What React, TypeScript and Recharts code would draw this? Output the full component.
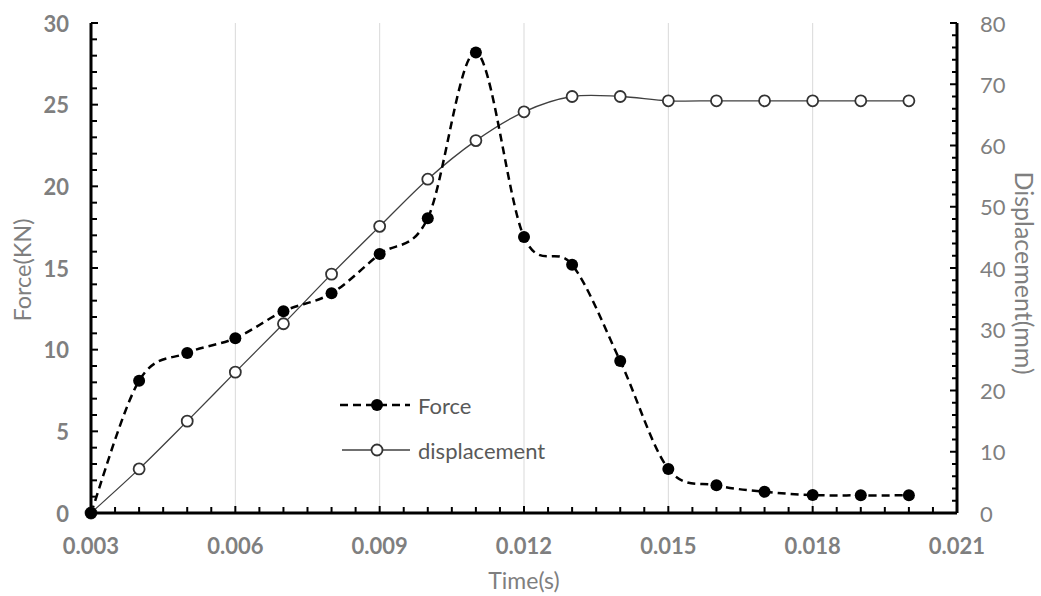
import { ComposedChart, Line, XAxis, YAxis, ReferenceLine, Legend, Label } from 'recharts';

// Force / displacement vs time

const time = [0.003, 0.004, 0.005, 0.006, 0.007, 0.008, 0.009, 0.01, 0.011, 0.012, 0.013, 0.014, 0.015, 0.016, 0.017, 0.018, 0.019, 0.02];
const force = [0, 8.1, 9.8, 10.7, 12.35, 13.45, 15.85, 18.05, 28.2, 16.9, 15.2, 9.3, 2.7, 1.7, 1.3, 1.1, 1.08, 1.08];
const displacement = [0, 7.2, 15.0, 23.0, 30.9, 39.0, 46.8, 54.5, 60.8, 65.5, 68.0, 68.0, 67.3, 67.3, 67.3, 67.3, 67.3, 67.3];

const xMajorTicks = [0.003, 0.006, 0.009, 0.012, 0.015, 0.018, 0.021];
const gridX = [0.006, 0.009, 0.012, 0.015, 0.018];
const xMinorStep = 0.0005;
const forceStep = 1;
const forceMax = 30;
const dispStep = 2;
const dispMax = 80;

const xTicks: number[] = [];
for (let v = xMajorTicks[0]; v <= xMajorTicks[xMajorTicks.length - 1] + 1e-6; v += xMinorStep) xTicks.push(Math.round(v * 10000) / 10000);
const forceTicks: number[] = [];
for (let v = 0; v <= forceMax; v += forceStep) forceTicks.push(v);
const dispTicks: number[] = [];
for (let v = 0; v <= dispMax; v += dispStep) dispTicks.push(v);

const data = time.map((t, i) => ({ t, force: force[i], displacement: displacement[i] }));

const FONT = 'Lato, "Open Sans", sans-serif';
const GREY = '#7f7f7f';

// Excel-like smoothed line (Catmull-Rom style bezier)
function excelCurve(context: any) {
  let pts: number[][] = [];
  return {
    areaStart() {},
    areaEnd() {},
    lineStart() {
      pts = [];
    },
    point(x: number, y: number) {
      pts.push([+x, +y]);
    },
    lineEnd() {
      if (!pts.length) return;
      context.moveTo(pts[0][0], pts[0][1]);
      for (let i = 0; i < pts.length - 1; i++) {
        const p0 = pts[Math.max(0, i - 1)];
        const p1 = pts[i];
        const p2 = pts[i + 1];
        const p3 = pts[Math.min(pts.length - 1, i + 2)];
        context.bezierCurveTo(
          p1[0] + (p2[0] - p0[0]) / 6,
          p1[1] + (p2[1] - p0[1]) / 6,
          p2[0] - (p3[0] - p1[0]) / 6,
          p2[1] - (p3[1] - p1[1]) / 6,
          p2[0],
          p2[1]
        );
      }
    },
  };
}

function XTick(props: any) {
  const { x, y, payload } = props;
  const v = payload.value;
  const major = xMajorTicks.some((m) => Math.abs(m - v) < 1e-6);
  return (
    <g>
      <line x1={x} x2={x} y1={y} y2={y - (major ? 7 : 6)} stroke="#000" strokeWidth={2} />
      {major && (
        <text x={x} y={y + 32} textAnchor="middle" dominantBaseline="central" fill={GREY} fontFamily={FONT} fontSize={22} fontWeight="bold">
          {v.toFixed(3)}
        </text>
      )}
    </g>
  );
}

function LeftTick(props: any) {
  const { x, y, payload } = props;
  const v = payload.value;
  const major = v % 5 === 0;
  return (
    <g>
      <line x1={x} x2={x + (major ? 7 : 6)} y1={y} y2={y} stroke="#000" strokeWidth={2} />
      {major && (
        <text x={x - 22} y={y} textAnchor="end" dominantBaseline="central" fill={GREY} fontFamily={FONT} fontSize={22} fontWeight="bold">
          {v}
        </text>
      )}
    </g>
  );
}

function RightTick(props: any) {
  const { x, y, payload } = props;
  const v = payload.value;
  const major = v % 10 === 0;
  return (
    <g>
      <line x1={x} x2={x - (major ? 7 : 5)} y1={y} y2={y} stroke="#000" strokeWidth={2} />
      {major && (
        <text x={x + 23} y={y} textAnchor="start" dominantBaseline="central" fill={GREY} fontFamily={FONT} fontSize={22}>
          {v}
        </text>
      )}
    </g>
  );
}

function LegendBox() {
  return (
    <svg width={240} height={80} style={{ display: 'block' }}>
      <line x1={5} x2={75} y1={14} y2={14} stroke="#000" strokeWidth={2.5} strokeDasharray="8 5" />
      <circle cx={42} cy={14} r={6} fill="#000" />
      <text x={83} y={14} dominantBaseline="central" fill="#595959" fontFamily={FONT} fontSize={22}>
        Force
      </text>
      <line x1={7} x2={75} y1={59} y2={59} stroke="#404040" strokeWidth={1.3} />
      <circle cx={42} cy={59} r={5.5} fill="#fff" stroke="#333" strokeWidth={1.8} />
      <text x={83} y={59} dominantBaseline="central" fill="#595959" fontFamily={FONT} fontSize={22}>
        displacement
      </text>
    </svg>
  );
}

export default function App() {
  return (
    <div style={{ position: 'absolute', left: 0, top: 0, background: '#fff' }}>
      <ComposedChart width={1041} height={596} data={data} margin={{ top: 23, right: 0, bottom: 0, left: 0 }}>
        {gridX.map((g) => (
          <ReferenceLine key={g} x={g} yAxisId="left" stroke="#d9d9d9" strokeWidth={1} />
        ))}
        <XAxis
          dataKey="t"
          type="number"
          domain={[0.003, 0.021]}
          ticks={xTicks}
          interval={0}
          height={83}
          tickSize={0}
          tickMargin={0}
          tick={(p: any) => <XTick {...p} />}
          axisLine={{ stroke: '#000', strokeWidth: 3 }}
        >
          <Label
            content={(p: any) => {
              const vb = p.viewBox;
              return (
                <text x={vb.x + vb.width / 2} y={vb.y + 67} textAnchor="middle" dominantBaseline="central" fill={GREY} fontFamily={FONT} fontSize={23}>
                  Time(s)
                </text>
              );
            }}
          />
        </XAxis>
        <XAxis xAxisId="top" orientation="top" dataKey="t" type="number" domain={[0.003, 0.021]} height={0} tick={false} tickLine={false} axisLine={{ stroke: '#000', strokeWidth: 3 }} />
        <YAxis
          yAxisId="left"
          type="number"
          domain={[0, forceMax]}
          ticks={forceTicks}
          interval={0}
          width={91}
          tickSize={0}
          tickMargin={0}
          tick={(p: any) => <LeftTick {...p} />}
          axisLine={{ stroke: '#000', strokeWidth: 3 }}
        >
          <Label
            content={(p: any) => {
              const vb = p.viewBox;
              const cx = 22;
              const cy = vb.y + vb.height / 2 + 2;
              return (
                <text x={cx} y={cy} transform={`rotate(-90 ${cx} ${cy})`} textAnchor="middle" dominantBaseline="central" fill={GREY} fontFamily={FONT} fontSize={23.5}>
                  Force(KN)
                </text>
              );
            }}
          />
        </YAxis>
        <YAxis
          yAxisId="right"
          orientation="right"
          type="number"
          domain={[0, dispMax]}
          ticks={dispTicks}
          interval={0}
          width={84}
          tickSize={0}
          tickMargin={0}
          tick={(p: any) => <RightTick {...p} />}
          axisLine={{ stroke: '#000', strokeWidth: 3 }}
        >
          <Label
            content={(p: any) => {
              const vb = p.viewBox;
              const cx = 1025;
              const cy = vb.y + vb.height / 2 + 5;
              return (
                <text x={cx} y={cy} transform={`rotate(90 ${cx} ${cy})`} textAnchor="middle" dominantBaseline="central" fill={GREY} fontFamily={FONT} fontSize={25}>
                  Displacement(mm)
                </text>
              );
            }}
          />
        </YAxis>
        <Legend
          layout="vertical"
          align="center"
          verticalAlign="middle"
          content={() => <LegendBox />}
          wrapperStyle={{ left: 335, top: 391, width: 240, height: 80 }}
        />
        <Line
          yAxisId="right"
          dataKey="displacement"
          name="displacement"
          type={excelCurve as any}
          stroke="#404040"
          strokeWidth={1.3}
          dot={{ r: 5.5, fill: '#fff', stroke: '#333', strokeWidth: 1.8 }}
          activeDot={false}
          isAnimationActive={false}
        />
        <Line
          yAxisId="left"
          dataKey="force"
          name="Force"
          type={excelCurve as any}
          stroke="#000"
          strokeWidth={2.5}
          strokeDasharray="8 5"
          dot={{ r: 6, fill: '#000', stroke: '#000', strokeWidth: 0 }}
          activeDot={false}
          isAnimationActive={false}
        />
      </ComposedChart>
    </div>
  );
}
